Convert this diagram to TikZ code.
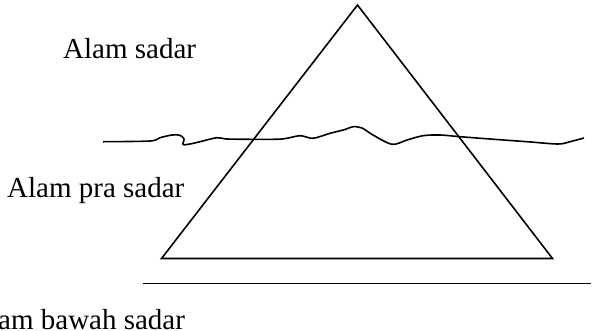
\documentclass[tikz,border=0pt]{standalone}
\usepackage{fontspec}
\setmainfont{Liberation Serif}
\begin{document}
\begin{tikzpicture}[x=1pt,y=-1pt,
  stroke/.style={line width=1.6pt, line join=miter},
  lbl/.style={anchor=base west, inner sep=0pt, font=\fontsize{29}{34}\selectfont}]
\useasboundingbox (0,0) rectangle (597,330);
% triangle
\coordinate (apex) at (357.5,5);
\coordinate (bl) at (161.5,258.5);
\coordinate (br) at (552.5,258.5);
\draw[stroke] (apex) -- (br) -- (bl) -- cycle;
% wavy line
\draw[stroke, line join=round] plot[smooth, tension=0.5] coordinates {
 (103,141.7) (150,141) (160,137.7) (172,135) (180,135.3) (184,139)
 (183,144.5) (190,144) (200,141.7) (217,137.7) (227,139) (253,139.3)
 (282,139) (300,135.7) (313,138.3) (330,133.3) (345,129.5) (353,126.7) (362,128)
 (373,135) (392,144.3) (407,140) (423,135.7) (440,135) (460,136.7)
 (490,139) (527,141.7) (558,144) (570,141.7) (584,138)};
% bottom line
\coordinate (l0) at (143,283.5);
\coordinate (l1) at (591,283.5);
\coordinate (t0) at (258,283.5);
\coordinate (t1) at (490,283.5);
\draw[line width=1.4pt] (l0) -- (l1);
\draw[line width=1.8pt] (t0) -- (t1);
% labels
\node[lbl] (sadar) at (63,58) {Alam sadar};
\node[lbl] (pra) at (7,197) {Alam pra sadar};
\node[lbl] (bawah) at (-31,329) {Alam bawah sadar};
\end{tikzpicture}
\end{document}
